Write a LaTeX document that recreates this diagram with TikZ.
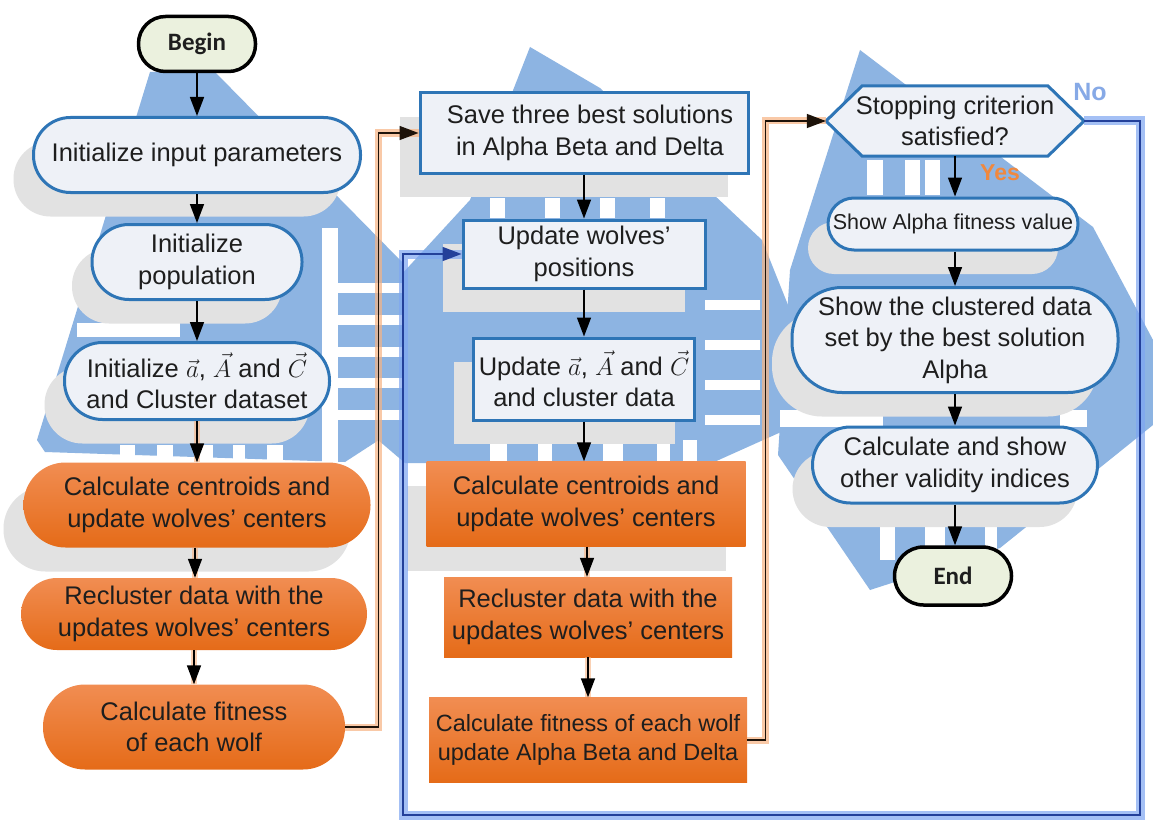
\documentclass[tikz,border=0pt]{standalone}
\usepackage{fontspec}
\setmainfont{Liberation Sans}
\newfontfamily\termfont{Carlito}
\usetikzlibrary{arrows.meta,calc}

\definecolor{decoblue}{HTML}{8DB4E2}
\definecolor{shade}{HTML}{E2E2E2}
\definecolor{boxfill}{HTML}{EEF1F7}
\definecolor{boxline}{HTML}{2E75B6}
\definecolor{ink}{HTML}{1E1E1E}
\definecolor{ortop}{HTML}{F18D52}
\definecolor{orbot}{HTML}{E56B18}
\definecolor{termfill}{HTML}{EBF1DE}
\definecolor{glowor}{HTML}{F7B383}
\definecolor{glowbl}{HTML}{7EA6F2}
\definecolor{loopbl}{HTML}{23409A}
\definecolor{yesor}{HTML}{F0883E}
\definecolor{nobl}{HTML}{86A9E6}

\tikzset{
  txt/.style={font=\fontsize{25.5}{31.5}\selectfont, text=ink, align=center, inner sep=0pt},
  shadowed/.style={preaction={fill=shade, transform canvas={shift={(-20pt,-24pt)}}}},
  pill/.style={txt, draw=boxline, line width=3pt, fill=boxfill, rounded corners=#1},
  sqbox/.style={txt, draw=boxline, line width=3pt, fill=boxfill},
  opill/.style={txt, top color=ortop, bottom color=orbot, rounded corners=#1},
  obox/.style={txt, top color=ortop, bottom color=orbot},
  term/.style={font=\termfont\bfseries\fontsize{25}{30}\selectfont, text=ink, draw=black,
               line width=3.5pt, fill=termfill, rounded corners=#1, inner sep=0pt},
  tip/.style={-{Triangle[length=19pt,width=14pt]}},
  arr/.style={draw=black, line width=1.6pt, tip},
  glowarr/.style={arr, preaction={draw=glowor, line width=6pt, opacity=0.6, -}},
  orloop/.style={draw=black!85!brown, line width=1.4pt, tip,
                 preaction={draw=glowor, line width=7pt, opacity=0.7, -}},
  blloop/.style={draw=loopbl, line width=1.6pt, tip,
                 preaction={draw=glowbl, line width=9pt, opacity=0.7, -}},
}

\begin{document}
\begin{tikzpicture}[x=1pt,y=-1pt]
\useasboundingbox (0,0) rectangle (1153,824);
\fill[white] (0,0) rectangle (1153,824);

% --- watermark shapes behind the three columns ---
\fill[decoblue] (150,72) -- (215,72) -- (402,262) -- (402,425) -- (345,462) -- (45,452) -- (37,440) -- cycle;
\fill[decoblue] (530,47) -- (600,88) -- (762,240) -- (848,455) -- (790,428) -- (712,463) -- (405,463)
  -- (378,440) -- (378,300) -- (470,200) -- cycle;
\fill[decoblue] (860,50) -- (1093,227) -- (1153,340) -- (1153,425) -- (1000,548) -- (870,590)
  -- (778,455) -- (790,270) -- cycle;

% white stripes cut into the watermark
\foreach \a/\b in {120/135,157/173,197/213,233/245,267/283}
  \fill[white] (\a,445) rectangle (\b,462);
\fill[white] (77,323) rectangle (180,337);
\fill[white] (322,228) rectangle (338,462);
\foreach \a in {283,315,347,378,410}
  \fill[white] (338,\a) rectangle (402,\a+10);
\foreach \a/\b in {490/505,545/560,600/615,650/665}
  \fill[white] (\a,198) rectangle (\b,218);
\foreach \a/\b in {490/507,538/552,603/623,657/670,683/697}
  \fill[white] (\a,440) rectangle (\b,462);
\foreach \a in {300,340,380,415}
  \fill[white] (705,\a) rectangle (760,\a+10);
\foreach \a/\b in {867/883,905/920,925/940}
  \fill[white] (\a,160) rectangle (\b,195);
\fill[white] (780,410) rectangle (883,427);
\fill[white] (1060,410) rectangle (1087,427);
\foreach \a/\b in {880/895,925/945,985/997}
  \fill[white] (\a,527) rectangle (\b,560);

% --- column 1 ---
\node[term=27pt, minimum width=117pt, minimum height=55pt] (begin) at (197,44) {Begin};
\node[pill=37pt, shadowed, minimum width=327pt, minimum height=75pt] (init) at (197,155)
  {Initialize input parameters};
\node[pill=37pt, shadowed, minimum width=210pt, minimum height=75pt] (pop) at (197,262)
  {Initialize\\population};
\node[pill=38pt, shadowed, minimum width=265pt, minimum height=77pt] (iaac) at (197,381)
  {Initialize $\vec{a}$, $\vec{A}$ and $\vec{C}$\\and Cluster dataset};
\node[opill=42pt, shadowed, minimum width=347pt, minimum height=85pt] (centa) at (197,505)
  {Calculate centroids and\\update wolves’ centers};
\node[opill=36pt, minimum width=346pt, minimum height=72pt] (recla) at (194,614)
  {Recluster data with the\\updates wolves’ centers};
\node[opill=42pt, minimum width=302pt, minimum height=85pt] (fita) at (194,727)
  {Calculate fitness\\of each wolf};

% --- column 2 ---
\node[sqbox, shadowed, minimum width=328pt, minimum height=80pt] (save) at (584,133)
  {\hspace*{12pt}Save three best solutions\\\hspace*{12pt}in Alpha Beta and Delta};
\node[sqbox, shadowed, minimum width=242pt, minimum height=68pt] (upw) at (584,254)
  {Update wolves’\\positions};
\node[sqbox, shadowed, minimum width=221pt, minimum height=82pt] (upaac) at (584,379)
  {Update $\vec{a}$, $\vec{A}$ and $\vec{C}$\\and cluster data};
\node[obox, shadowed, minimum width=319pt, minimum height=85pt] (centb) at (586,504)
  {Calculate centroids and\\update wolves’ centers};
\node[obox, minimum width=288pt, minimum height=80pt] (reclb) at (588,617)
  {Recluster data with the\\updates wolves’ centers};
\node[obox, minimum width=318pt, minimum height=85pt,
      font=\fontsize{23.5}{29}\selectfont] (fitb) at (588,740)
  {Calculate fitness of each wolf\\update Alpha Beta and Delta};

% --- column 3 ---
\coordinate (stopc) at (955,121);
\filldraw[draw=boxline, fill=boxfill, line width=3pt, line join=miter]
  ($(stopc)+(-129,0)$) -- ($(stopc)+(-93,-35)$) -- ($(stopc)+(93,-35)$) -- ($(stopc)+(129,0)$)
  -- ($(stopc)+(93,35)$) -- ($(stopc)+(-93,35)$) -- cycle;
\node[txt, minimum width=258pt, minimum height=70pt] (stop) at (stopc)
  {Stopping criterion\\satisfied?};
\node[pill=26pt, shadowed, minimum width=250pt, minimum height=52pt,
      font=\fontsize{21.5}{26}\selectfont] (showa) at (953,224) {Show Alpha fitness value};
\node[pill=50pt, shadowed, minimum width=326pt, minimum height=105pt] (showc) at (955,340)
  {Show the clustered data\\set by the best solution\\Alpha};
\node[pill=38pt, shadowed, minimum width=285pt, minimum height=76pt] (calc) at (955,465)
  {Calculate and show\\other validity indices};
\node[term=29pt, minimum width=117pt, minimum height=58pt] (endn) at (953,576) {End};

% branch labels
\node[font=\bfseries\fontsize{23}{26}\selectfont, text=yesor, inner sep=0pt] (yes) at (1000,173) {Yes};
\node[font=\bfseries\fontsize{25}{28}\selectfont, text=nobl, inner sep=0pt] (no) at (1090,92) {No};

% --- connectors ---
\draw[arr] (begin.south) -- (begin.south |- init.north);
\draw[arr] (init.south) -- (init.south |- pop.north);
\draw[arr] (pop.south) -- (pop.south |- iaac.north);
\draw[glowarr] (iaac.south) -- (iaac.south |- centa.north);
\draw[glowarr] ($(centa.south)+(-2,0)$) -- ($(centa.south |- recla.north)+(-2,0)$);
\draw[glowarr] (recla.south) -- (recla.south |- fita.north);

\draw[arr] (save.south) -- (save.south |- upw.north);
\draw[arr] (upw.south) -- (upw.south |- upaac.north);
\draw[arr] (upaac.south) -- (upaac.south |- centb.north);
\draw[glowarr] ($(centb.south)+(1,0)$) -- ($(centb.south |- reclb.north)+(1,0)$);
\draw[glowarr] (reclb.south) -- (reclb.south |- fitb.north);

\draw[arr] (stop.south) -- (stop.south |- showa.north);
\draw[arr] ($(showa.south)+(2,0)$) -- ($(showa.south |- showc.north)+(2,0)$);
\draw[arr] (showc.south) -- (showc.south |- calc.north);
\draw[arr] (calc.south) -- (calc.south |- endn.north);

% feedback and hand-over lines
\draw[orloop] (fita.east) -- ++(33,0) |- (save.west);
\draw[orloop] (fitb.east) -- ++(18,0) |- (stop.west);
\coordinate (rb) at (1140,815);
\coordinate (lb) at (403,815);
\draw[blloop] (stop.east) -| (rb) -- (lb) |- (upw.west);
\end{tikzpicture}
\end{document}
